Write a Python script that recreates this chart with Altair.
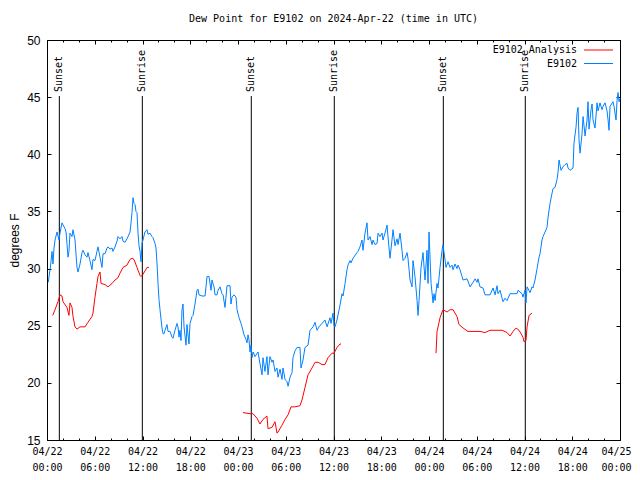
import altair as alt
import pandas as pd

# ---------------- data (hours after 2024-04-22 00:00 UTC, dew point in F) -------------
blue_hours = [0.16, 0.38, 0.50, 0.63, 0.75, 0.88, 1.01, 1.26, 1.51, 1.63, 1.88, 2.26, 2.39, 2.51, 2.64,
              2.76, 2.89, 3.14, 3.27, 3.52, 3.77, 3.90, 4.15, 4.40, 4.52, 4.78, 5.03, 5.15, 5.40, 5.65,
              5.78, 6.03, 6.28, 6.41, 6.66, 6.91, 7.04, 7.29, 7.54, 7.67, 7.92, 8.17, 8.29, 8.55, 8.80,
              8.92, 9.17, 9.42, 9.55, 9.80, 10.05, 10.18, 10.43, 10.56, 10.68, 10.81, 10.93, 11.06, 11.18,
              11.31, 11.44, 11.56, 11.69, 11.81, 11.94, 12.06, 12.31, 12.57, 12.69, 12.94, 13.19, 13.32,
              13.57, 13.70, 13.82, 13.95, 14.07, 14.20, 14.45, 14.58, 14.70, 14.83, 15.08, 15.21, 15.46,
              15.71, 15.83, 16.08, 16.34, 16.46, 16.59, 16.71, 16.84, 16.96, 17.09, 17.22, 17.47, 17.59,
              17.84, 17.97, 18.22, 18.35, 18.60, 18.85, 18.98, 19.10, 19.48, 19.85, 19.98, 20.11, 20.36,
              20.61, 20.73, 20.99, 21.11, 21.36, 21.49, 21.74, 21.99, 22.12, 22.37, 22.49, 22.62, 23.00,
              23.12, 23.25, 23.50, 23.75, 23.88, 24.13, 24.38, 24.50, 24.76, 25.01, 25.13, 25.26, 25.38,
              25.51, 25.64, 25.76, 25.89, 26.14, 26.51, 26.76, 27.02, 27.14, 27.39, 27.64, 27.77, 28.02,
              28.27, 28.40, 28.65, 28.90, 29.03, 29.28, 29.53, 29.66, 29.91, 30.16, 30.29, 30.54, 30.79,
              30.91, 31.16, 31.42, 31.79, 31.92, 32.17, 32.42, 32.80, 33.05, 33.43, 33.68, 33.93, 34.18,
              34.56, 34.93, 35.19, 35.56, 35.69, 35.94, 36.07, 36.19, 36.44, 36.82, 37.07, 37.20, 37.45,
              37.70, 37.82, 38.08, 38.20, 38.45, 38.96, 39.08, 39.33, 39.58, 39.71, 39.96, 40.21, 40.34,
              40.59, 40.84, 40.97, 41.22, 41.47, 41.60, 41.85, 42.10, 42.22, 42.47, 42.73, 42.85, 43.10,
              43.35, 43.48, 43.73, 43.98, 44.11, 44.36, 44.61, 44.74, 44.99, 45.24, 45.36, 45.62, 45.87,
              45.99, 46.24, 46.50, 46.62, 46.75, 47.00, 47.25, 47.50, 47.75, 47.88, 48.00, 48.26, 48.51,
              48.63, 48.76, 49.01, 49.13, 49.39, 49.64, 49.76, 49.89, 50.14, 50.39, 50.64, 50.89, 51.02,
              51.27, 51.52, 51.65, 51.90, 52.15, 52.28, 52.78, 53.16, 53.54, 53.79, 54.04, 54.16, 54.41,
              54.79, 55.04, 55.29, 55.67, 56.05, 56.30, 56.55, 56.67, 56.93, 57.18, 57.30, 57.55, 57.80,
              58.18, 58.56, 59.06, 59.19, 59.69, 59.81, 60.07, 60.19, 60.32, 60.70, 60.95, 61.07, 61.32,
              61.58, 61.70, 61.83, 61.95, 62.20, 62.33, 62.58, 62.83, 62.96, 63.21, 63.46, 63.59, 63.84,
              64.09, 64.21, 64.34, 64.59, 64.84, 65.09, 65.35, 65.47, 65.72, 66.10, 66.22, 66.48, 66.60,
              66.73, 66.85, 66.98, 67.23, 67.36, 67.61, 67.86, 67.98, 68.11, 68.36, 68.49, 68.61, 68.86,
              69.12, 69.24, 69.49, 69.74, 69.87, 70.12, 70.37, 70.50, 70.62, 70.75, 71.12, 71.25, 71.50,
              71.63, 71.75, 71.88, 72.00]
blue_vals = [28.8, 29.9, 30.6, 31.5, 30.4, 31.8, 32.5, 33.2, 32.5, 33.1, 34.0, 33.5, 33.2, 32.2, 31.0,
             31.5, 33.1, 32.8, 33.4, 32.5, 30.1, 29.7, 30.4, 31.4, 31.6, 31.2, 31.0, 31.4, 30.7, 29.9,
             30.8, 30.7, 31.5, 31.9, 31.0, 30.1, 31.3, 31.3, 31.8, 31.9, 31.7, 31.8, 31.5, 31.9, 32.4,
             32.8, 32.6, 32.8, 32.4, 32.3, 32.6, 32.8, 33.2, 34.0, 34.9, 36.2, 35.7, 35.6, 35.0,
             34.9, 33.1, 32.0, 31.5, 30.6, 32.2, 32.5, 33.2, 33.4, 33.0, 33.1, 32.8, 32.7,
             32.2, 31.8, 30.5, 28.7, 27.3, 26.4, 24.8, 24.3, 24.3, 24.6, 25.1, 24.5, 24.5,
             24.0, 23.9, 24.6, 25.2, 24.9, 24.0, 24.6, 23.7, 26.4, 26.9, 24.9, 23.3, 25.1,
             23.4, 25.2, 25.8, 25.9, 26.9, 28.1, 28.2, 27.7, 27.6, 27.6, 28.4, 29.3, 29.3,
             28.1, 29.0, 28.4, 27.7, 27.7, 28.1, 28.4, 27.8, 27.7, 26.6, 27.5, 28.5, 28.5,
             26.9, 27.5, 27.7, 27.5, 26.4, 25.7, 25.2, 24.9, 24.2, 23.8, 23.5, 24.2, 23.8,
             22.7, 23.3, 22.2, 22.7, 22.3, 22.7, 21.7, 20.7, 22.2, 21.0, 22.3, 20.7, 22.3,
             21.8, 22.0, 21.0, 21.3, 20.5, 21.2, 20.3, 21.3, 20.3, 20.1, 19.7, 20.5, 20.9,
             22.2, 22.8, 23.1, 23.1, 21.3, 22.0, 23.1, 23.3, 24.6, 24.9, 25.3, 24.6, 24.9,
             25.2, 25.5, 24.9, 25.7, 25.2, 26.1, 25.0, 24.9, 25.5, 26.8, 27.8, 27.6, 28.7,
             29.9, 30.3, 30.7, 30.5, 30.9, 31.4, 31.5, 31.9, 32.5, 31.6, 33.1, 34.0, 32.5,
             32.8, 32.1, 32.5, 32.1, 32.2, 33.1, 32.8, 33.1, 32.5, 33.1, 33.8, 32.8, 30.9,
             32.5, 33.4, 32.0, 32.6, 32.1, 33.1, 31.6, 30.7, 30.9, 31.4, 30.9, 29.0, 28.4,
             30.7, 29.3, 27.2, 25.9, 27.2, 30.1, 31.4, 29.0, 31.6, 28.7, 33.2, 28.7, 27.0,
             27.8, 27.2, 28.7, 28.3, 30.1, 31.6, 32.1, 31.4, 30.1, 30.6, 30.1, 30.3, 29.9,
             30.4, 30.0, 30.3, 29.9, 29.3, 29.0, 29.1, 28.4, 28.8, 29.1, 28.8, 29.1, 28.4,
             28.3, 27.7, 27.7, 27.7, 28.3, 27.7, 28.5, 27.8, 28.1, 27.4, 27.1, 27.4, 27.2,
             27.8, 27.8, 27.8, 28.1, 27.8, 27.5, 28.1, 27.0, 28.4, 27.9, 28.4, 28.3, 29.0,
             30.0, 30.5, 31.0, 31.3, 32.5, 32.8, 33.2, 33.6, 34.5, 35.7, 36.6, 37.0, 37.1,
             37.8, 38.4, 39.5, 38.6, 38.9, 39.1, 39.2, 38.8, 38.6, 38.8, 41.0, 42.4, 43.6,
             44.1, 41.3, 40.1, 41.8, 43.3, 41.6, 43.0, 44.6, 42.2, 43.9, 44.4, 43.0, 42.3,
             44.5, 43.8, 44.5, 43.9, 44.2, 44.5, 43.8, 43.0, 42.1, 44.2, 44.6, 44.2, 43.0,
             44.7, 45.4, 44.6, 44.9]

red_hours_1 = [0.72, 1.01, 1.38, 1.63, 1.88, 2.01, 2.51, 2.76, 2.89, 3.14, 3.27, 3.52, 3.77, 4.15, 4.78,
               5.15, 5.65, 5.78, 6.03, 6.28, 6.41, 6.66, 6.79, 7.29, 7.67, 8.17, 8.55, 8.92, 9.17, 9.55,
               10.05, 10.43, 10.68, 10.93, 11.31, 11.69, 11.81, 12.06, 12.57, 12.82]
red_vals_1 = [25.9, 26.4, 27.1, 27.7, 27.6, 27.1, 26.6, 25.9, 27.0, 26.6, 25.8, 24.9, 24.7, 24.9, 24.9,
              25.3, 25.8, 26.1, 27.5, 28.7, 29.3, 29.7, 28.7, 28.6, 28.4, 28.7, 29.0, 29.2, 29.6, 30.1,
              30.3, 30.8, 30.9, 30.8, 30.1, 29.4, 29.3, 29.5, 30.1, 30.1]
red_hours_2 = [24.63, 25.51, 25.89, 26.39, 26.76, 27.14, 27.64, 27.77, 28.27, 28.65, 28.90, 29.03, 29.53,
               29.91, 30.29, 30.66, 31.16, 31.79, 32.04, 32.42, 32.80, 33.30, 33.68, 34.06, 34.56, 34.93,
               35.31, 35.81, 36.07, 36.44, 36.82, 36.95]
red_vals_2 = [17.4, 17.3, 17.3, 16.9, 16.4, 16.8, 17.1, 16.0, 16.1, 16.6, 15.6, 15.7, 16.3,
              16.8, 17.2, 17.9, 17.9, 18.0, 18.5, 19.6, 20.7, 21.3, 21.8, 21.8, 21.6, 21.6,
              22.2, 22.6, 22.6, 23.1, 23.4, 23.4]
red_hours_3 = [48.88, 49.01, 49.39, 49.64, 49.76, 50.27, 50.64, 51.02, 51.52, 51.77, 52.28, 52.90, 54.41,
               55.04, 55.67, 57.18, 57.80, 58.18, 58.56, 58.94, 59.31, 59.81, 59.94, 60.19, 60.32, 60.57,
               60.95]
red_vals_3 = [22.6, 24.5, 25.7, 26.2, 26.4, 26.2, 26.4, 26.4, 25.8, 25.1, 24.8, 24.5, 24.5,
              24.4, 24.6, 24.6, 24.4, 24.1, 24.5, 24.8, 24.6, 24.0, 23.6, 23.7, 24.9, 25.9,
              26.1]

event_hours = [1.55, 11.98, 25.67, 36.10, 49.80, 60.10]
event_names = ["Sunset", "Sunrise", "Sunset", "Sunrise", "Sunset", "Sunrise"]

x_major = list(range(0, 73, 6))
x_minor = list(range(0, 73, 2))
y_ticks = [15, 20, 25, 30, 35, 40, 45, 50]
legend_labels = ["E9102 Analysis", "E9102"]
legend_colors = ["#ff0000", "#0080ff"]
title_text = "Dew Point for E9102 on 2024-Apr-22 (time in UTC)"

blue_df = pd.DataFrame({"h": blue_hours, "v": blue_vals})
red_df = pd.DataFrame({
    "h": red_hours_1 + red_hours_2 + red_hours_3,
    "v": red_vals_1 + red_vals_2 + red_vals_3,
    "seg": [1] * len(red_hours_1) + [2] * len(red_hours_2) + [3] * len(red_hours_3),
})
event_df = pd.DataFrame({"h": event_hours, "name": event_names,
                         "ytop": [45.1] * len(event_hours), "ybot": [15] * len(event_hours),
                         "ylab": [45.45] * len(event_hours)})

W, H = 573, 400
MONO = "DejaVu Sans Mono"
SANS = "Liberation Sans"

xscale = alt.Scale(domain=[0, 72], nice=False, zero=False)
yscale = alt.Scale(domain=[15, 50], nice=False, zero=False)


def xaxis_ticks(orient, vals, size):
    return alt.Axis(orient=orient, offset=-H, values=vals, labels=False, domain=False, grid=False,
                    tickColor="black", tickSize=size, title=None)


def yaxis_ticks(orient):
    return alt.Axis(orient=orient, offset=-W, values=y_ticks, labels=False, domain=False,
                    grid=False, tickColor="black", tickSize=4, title=None)


label_expr = ("['04/' + (22 + floor(datum.value / 24)), "
              "(datum.value % 24 < 10 ? '0' : '') + (datum.value % 24) + ':00']")


def xaxis_labels(vals, shift):
    return alt.Axis(orient="bottom", values=vals, labelExpr=label_expr, labelOffset=shift,
                    ticks=False, domain=False, grid=False, labelFont=MONO, labelFontSize=10,
                    labelColor="black", labelPadding=6, labelLineHeight=16, labelOverlap=False,
                    labelFlush=False, title=None)


y_main = alt.Axis(orient="left", values=y_ticks, ticks=False, domain=False, grid=False,
                  labelFont=SANS, labelFontSize=12, labelColor="black", labelPadding=7,
                  title="degrees F", titleFont=SANS, titleFontSize=12,
                  titleFontWeight="normal", titleColor="black", titlePadding=5)

blue = alt.Chart(blue_df).mark_line(color="#0080ff", strokeWidth=1).encode(
    x=alt.X("h:Q", scale=xscale, axis=xaxis_labels(x_major[:-1], 0)),
    y=alt.Y("v:Q", scale=yscale, axis=y_main),
)
red = alt.Chart(red_df).mark_line(color="#ff0000", strokeWidth=1).encode(
    x=alt.X("h:Q", scale=xscale, axis=xaxis_ticks("top", x_major, 4)),
    y=alt.Y("v:Q", scale=yscale, axis=yaxis_ticks("right")),
    detail="seg:N",
)
ghost1 = alt.Chart(blue_df).mark_line(opacity=0).encode(
    x=alt.X("h:Q", scale=xscale, axis=xaxis_ticks("bottom", x_major, 4)),
    y=alt.Y("v:Q", scale=yscale, axis=yaxis_ticks("left")),
)
ghost2 = alt.Chart(blue_df).mark_line(opacity=0).encode(
    x=alt.X("h:Q", scale=xscale, axis=xaxis_ticks("top", x_minor, 2)),
    y=alt.Y("v:Q", scale=yscale, axis=None),
)
ghost3 = alt.Chart(blue_df).mark_line(opacity=0).encode(
    x=alt.X("h:Q", scale=xscale, axis=xaxis_ticks("bottom", x_minor, 2)),
    y=alt.Y("v:Q", scale=yscale, axis=None),
)
ghost4 = alt.Chart(blue_df).mark_line(opacity=0).encode(
    x=alt.X("h:Q", scale=xscale, axis=xaxis_labels(x_major[-1:], -4)),
    y=alt.Y("v:Q", scale=yscale, axis=None),
)
events = alt.Chart(event_df).mark_rule(color="black", strokeWidth=1).encode(
    x=alt.X("h:Q", scale=xscale, axis=None),
    y=alt.Y("ytop:Q", scale=yscale, axis=None),
    y2="ybot:Q",
)
event_text = alt.Chart(event_df).mark_text(angle=270, align="left", baseline="middle",
                                           font=MONO, fontSize=10, color="black").encode(
    x=alt.X("h:Q", scale=xscale, axis=None),
    y=alt.Y("ylab:Q", scale=yscale, axis=None),
    text="name:N",
)

title_layer = alt.Chart(event_df.head(1)).mark_text(align="center", baseline="middle", font=MONO,
                                                   fontSize=10, color="black").encode(
    x=alt.value(W / 2), y=alt.value(-21), text=alt.value(title_text))

legend_layers = []
for i, (lab, col) in enumerate(zip(legend_labels, legend_colors)):
    yy = 10 + 13.5 * i
    legend_layers.append(
        alt.Chart(event_df.head(1)).mark_text(align="right", baseline="middle", font=MONO,
                                               fontSize=10, color="black").encode(
            x=alt.value(530), y=alt.value(yy), text=alt.value(lab)))
    legend_layers.append(
        alt.Chart(event_df.head(1)).mark_rule(color=col, strokeWidth=1).encode(
            x=alt.value(537), x2=alt.value(566), y=alt.value(yy)))

chart = alt.layer(events, blue, red, ghost1, ghost2, ghost3, ghost4, event_text, title_layer,
                  *legend_layers).resolve_axis(
    x="independent", y="independent"
).properties(
    width=W, height=H,
    autosize=alt.AutoSizeParams(type="none"),
    padding={"left": 39, "top": 32, "right": 12, "bottom": 32},
).configure_view(stroke="black", strokeWidth=1)

chart.save("out.html", embed_options={"renderer": "svg", "actions": False})
